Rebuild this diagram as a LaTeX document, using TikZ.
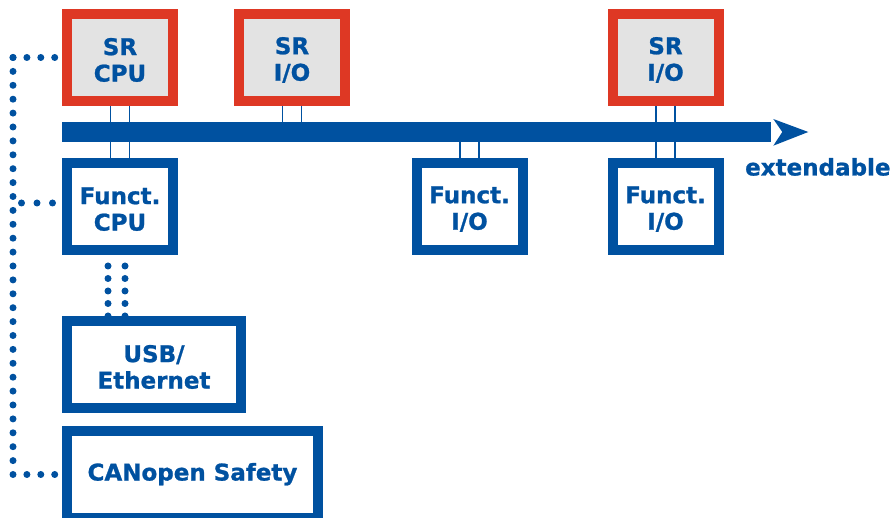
\documentclass[tikz,border=0pt]{standalone}
\usepackage{fontspec}
\setmainfont{DejaVu Sans}[BoldFeatures={FakeBold=1}]
\definecolor{fblue}{RGB}{0,81,160}
\definecolor{sred}{RGB}{222,56,36}
\definecolor{sgray}{RGB}{227,227,227}
\tikzset{
	unit/.style={line width=10pt, inner sep=0pt, minimum width=106pt, minimum height=87pt, text=fblue, align=center, font=\bfseries\fontsize{23}{26.5}\selectfont, text height=48.5pt},
	srbox/.style={unit, draw=sred, fill=sgray},
	funcbox/.style={unit, draw=fblue, fill=white},
	link/.style={draw=fblue, line width=1.3pt, double=white, double distance=17.7pt},
	dotline/.style={draw=fblue, line width=7pt, line cap=round, dash pattern=on 0pt off 13.9pt}
}
\begin{document}
\begin{tikzpicture}[x=1pt,y=-1pt]
	\useasboundingbox (0,0) rectangle (892,518);
	\node[fill=fblue, inner sep=0pt, outer sep=0pt, minimum width=709pt, minimum height=20pt] (bus) at (416.5,132) {};
	\fill[fblue] (773.3,119)--(808.3,132)--(773.3,145.7)--(782.3,132)--cycle;
	\node[srbox] (srcpu) at (120,57.5) {SR\\CPU};
	\node[srbox] (srio1) at (292,57.5) {SR\\I/O};
	\node[srbox] (srio2) at (665.5,57.5) {SR\\I/O};
	\node[funcbox] (fcpu) at (120,206.5) {Funct.\\CPU};
	\node[funcbox] (fio1) at (469.5,206.5) {Funct.\\I/O};
	\node[funcbox] (fio2) at (665.5,206.5) {Funct.\\I/O};
	\node[funcbox, minimum width=174pt] (usb) at (154,364.5) {USB/\\Ethernet};
	\node[funcbox, minimum width=251pt, text height=17pt] (can) at (192.5,474.5) {CANopen Safety};
	\node[anchor=base west, inner sep=0pt, text=fblue, font=\bfseries\fontsize{23}{26.5}\selectfont] (ext) at (745,175.5) {extendable};
	\foreach \b in {srcpu,srio1,srio2}
		\draw[link] (\b.south)--(\b.south |- bus.north);
	\foreach \b in {fcpu,fio1,fio2}
		\draw[link] (\b.north |- bus.south)--(\b.north);
	\coordinate (trunk) at (13,0);
	\draw[dotline] (srcpu.west -| trunk)--(srcpu.west);
	\draw[dotline] (srcpu.west -| trunk)--(can.west -| trunk)--(can.west);
	\draw[dotline, dash pattern=on 0pt off 15.5pt] ([shift={(-9.5pt,3.5pt)}]fcpu.west)--([yshift=3.5pt]fcpu.west -| trunk);
	\foreach \s in {-12,5}
		\draw[dotline, dash pattern=on 0pt off 12.5pt] ([xshift=\s pt]fcpu.south |- usb.north)--([xshift=\s pt]fcpu.south);
\end{tikzpicture}
\end{document}
